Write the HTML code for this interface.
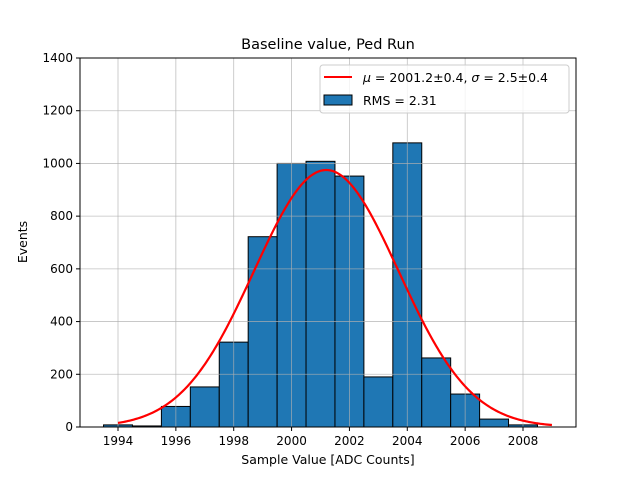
<!DOCTYPE html>
<html><head><meta charset="utf-8"><style>
body{margin:0;background:#fff;font-family:"Liberation Sans","DejaVu Sans",sans-serif;}
svg text{font-family:"DejaVu Sans","Liberation Sans",sans-serif;}
</style></head><body>
<svg id="c" width="640" height="480" xmlns="http://www.w3.org/2000/svg">
<rect width="640" height="480" fill="#fff"/>
<g id="bars"></g><g id="grid"></g><g id="curve"></g><g id="axes"></g>
<text x="328" y="49" text-anchor="middle" font-size="14.5">Baseline value, Ped Run</text>
<text x="328" y="464" text-anchor="middle" font-size="12.5">Sample Value [ADC Counts]</text>
<text x="27" y="242" text-anchor="middle" font-size="12.5" transform="rotate(-90 27 242)">Events</text>
<g>
<rect x="320" y="65" width="249" height="48" rx="3" fill="#fff" fill-opacity="0.8" stroke="#ccc"/>
<line x1="324" y1="77" x2="352" y2="77" stroke="red" stroke-width="2"/>
<text x="363" y="82" font-size="12.5"><tspan font-style="italic">μ</tspan> = 2001.2±0.4, <tspan font-style="italic">σ</tspan> = 2.5±0.4</text>
<rect x="324" y="95" width="28" height="10" fill="#1f77b4" stroke="#000"/>
<text x="363" y="105" font-size="12.5">RMS = 2.31</text>
</g>
</svg>
<script>
const binCenters=[1994,1995,1996,1997,1998,1999,2000,2001,2002,2003,2004,2005,2006,2007,2008];
const counts=[8,4,78,152,322,722,1000,1008,952,190,1078,262,125,30,8];
const xTicks=[1994,1996,1998,2000,2002,2004,2006,2008];
const yTicks=[0,200,400,600,800,1000,1200,1400];
const fitMu=2001.2, fitSigma=2.5, fitAmp=975;
const fitRange=[1994,2009];
const L=80,R=576,T=58,B=427;
const xs=v=>118+(v-1994)*(405/14);
const ys=v=>B-v*(B-T)/1400;
const NS="http://www.w3.org/2000/svg";
function mk(t,a,p){const e=document.createElementNS(NS,t);for(const k in a)e.setAttribute(k,a[k]);p.appendChild(e);return e;}
const g=document.getElementById('grid'),b=document.getElementById('bars'),cu=document.getElementById('curve'),ax=document.getElementById('axes');
xTicks.forEach(v=>{const x=xs(v);
const l=mk('line',{x1:x,x2:x,y1:T,y2:B,stroke:'#b0b0b0','stroke-width':0.8,'stroke-opacity':0.8},g);


mk('line',{x1:x,x2:x,y1:B,y2:B+4,stroke:'#000'},ax);
const t=mk('text',{x:x,y:B+18,'text-anchor':'middle','font-size':12},ax);t.textContent=v;

});
yTicks.forEach(v=>{const y=ys(v);
const l=mk('line',{x1:L,x2:R,y1:y,y2:y,stroke:'#b0b0b0','stroke-width':0.8,'stroke-opacity':0.8},g);


mk('line',{x1:L-4,x2:L,y1:y,y2:y,stroke:'#000'},ax);
const t=mk('text',{x:L-7,y:y+4,'text-anchor':'end','font-size':12},ax);t.textContent=v;

});
binCenters.forEach((c,i)=>{const x0=xs(c-0.5),x1=xs(c+0.5),y=ys(counts[i]);
const r=mk('rect',{x:x0,y:y,width:x1-x0,height:B-y,fill:'#1f77b4',stroke:'#000','stroke-width':1},b);

});
let d='';for(let v=fitRange[0];v<=fitRange[1]+0.001;v+=0.05){const f=fitAmp*Math.exp(-((v-fitMu)**2)/(2*fitSigma*fitSigma));d+=(d?'L':'M')+xs(v).toFixed(2)+','+ys(f).toFixed(2);}
const p=mk('path',{d:d,fill:'none',stroke:'red','stroke-width':2.2},cu);


const fr=mk('rect',{x:L,y:T,width:R-L,height:B-T,fill:'none',stroke:'#000','stroke-width':1},ax);


</script>
</body></html>
